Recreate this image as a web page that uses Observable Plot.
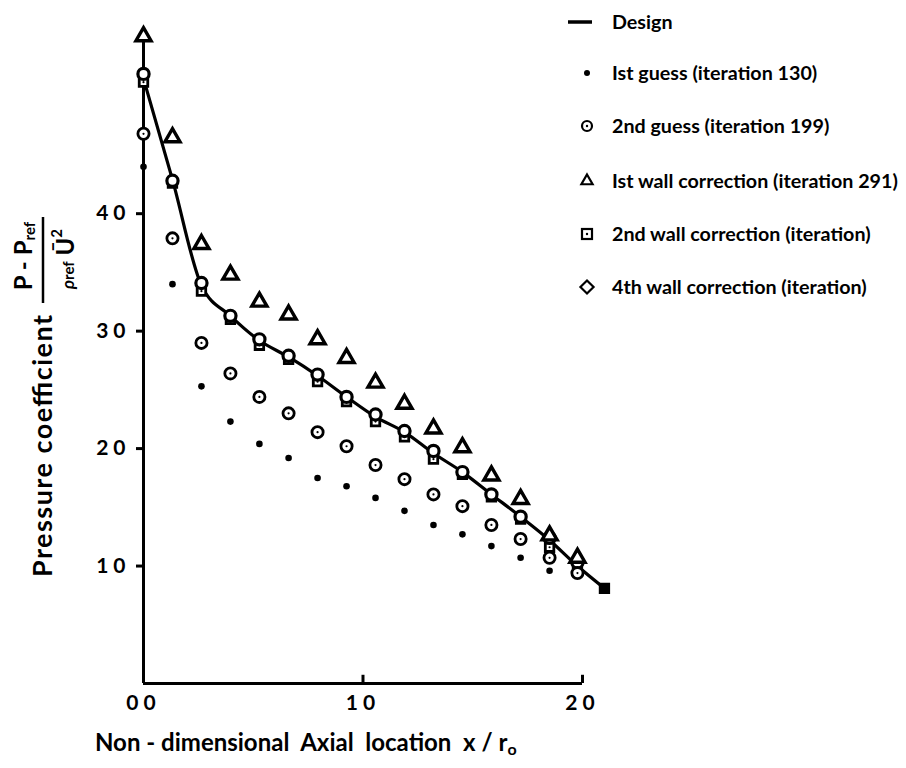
<!DOCTYPE html>
<html>
<head>
<meta charset="utf-8">
<script src="https://cdn.jsdelivr.net/npm/d3@7"></script>
<script src="https://cdn.jsdelivr.net/npm/@observablehq/plot@0.6"></script>
<style>
  html, body { margin: 0; padding: 0; background: #fff; }
  #chart { position: relative; width: 906px; height: 768px; }
  .cp g[aria-label="y-axis tick label"] text { letter-spacing: 5px; }
  .cp g[aria-label="x-axis tick label"] text { letter-spacing: 5px; }
</style>
</head>
<body>
<div id="chart"></div>
<script>
// Axial stations x/r0 at which the pressure coefficient was evaluated
const xLocation = [0, 1.32, 2.64, 3.96, 5.28, 6.61, 7.93, 9.25, 10.57, 11.89, 13.21, 14.53, 15.85, 17.18, 18.50, 19.77, 21.0];

// Pressure coefficient for each run (same station order as xLocation)
const design      = [51.5, 42.9, 33.9, 31.3, 29.2, 27.8, 26.2, 24.4, 22.7, 21.4, 19.6, 18.0, 16.1, 14.2, 12.2, 10.0, 8.1];
const firstGuess  = [44.0, 34.0, 25.3, 22.3, 20.4, 19.2, 17.5, 16.8, 15.8, 14.7, 13.5, 12.7, 11.7, 10.7, 9.6];
const secondGuess = [46.8, 37.9, 29.0, 26.4, 24.4, 23.0, 21.4, 20.2, 18.6, 17.4, 16.1, 15.1, 13.5, 12.3, 10.7, 9.4];
const firstWall   = [55.1, 46.5, 37.4, 34.8, 32.5, 31.4, 29.3, 27.7, 25.6, 23.8, 21.7, 20.1, 17.7, 15.7, 12.6, 10.7];
const secondWall  = [51.2, 42.6, 33.4, 31.0, 28.8, 27.6, 25.7, 24.0, 22.3, 21.0, 19.1, 17.8, 15.9, 14.0, 11.6, 9.7, 8.1];
const fourthWall  = [51.9, 42.8, 34.1, 31.3, 29.3, 27.9, 26.3, 24.4, 22.9, 21.5, 19.8, 18.0, 16.1, 14.2, 12.4, 10.3];

// Axis ticks
const xTicks = [0, 10, 20];
const yTicks = [10, 20, 30, 40];

// Legend entries
const legendLabels = [
  "Design",
  "Ist guess (iteration 130)",
  "2nd guess (iteration 199)",
  "Ist wall correction (iteration 291)",
  "2nd wall correction (iteration)",
  "4th wall correction (iteration)"
];

const FONT = "Lato, 'Liberation Sans', sans-serif";
const rows = vals => vals.map((v, i) => ({x: xLocation[i], y: v}));

const plot = Plot.plot({
  className: "cp",
  width: 906,
  height: 768,
  marginLeft: 143,
  marginRight: 324,
  marginTop: 37,
  marginBottom: 85,
  x: {domain: [0, 20]},
  y: {domain: [0, 55]},
  style: {fontFamily: FONT, background: "white", color: "black", overflow: "visible"},
  marks: [
    Plot.ruleX([0], {strokeWidth: 3}),
    Plot.ruleY([0], {strokeWidth: 3}),
    Plot.ruleX(xTicks.slice(1), {y1: 0, y2: 0.7, strokeWidth: 3}),
    Plot.axisY(yTicks, {label: null, tickSize: 7, tickPadding: 6, strokeWidth: 3,
      fontSize: 21, fontWeight: "bold", tickFormat: d => String(d)}),
    Plot.axisX(xTicks, {label: null, tickSize: 0, tickPadding: 12,
      fontSize: 21, fontWeight: "bold", tickFormat: d => String(d).padStart(2, "0")}),
    Plot.line(rows(design), {x: "x", y: "y", curve: "monotone-x", strokeWidth: 3.2}),
    Plot.dot(rows(secondWall), {x: "x", y: "y", symbol: "square", r: 4.8, stroke: "black",
      strokeWidth: 2.8, fill: (d, i) => i === secondWall.length - 1 ? "black" : "white"}),
    Plot.dot(rows(secondWall), {x: "x", y: "y", r: 1.1, fill: "black"}),
    Plot.dot(rows(fourthWall), {x: "x", y: "y", r: 5.6, stroke: "black", strokeWidth: 3.2, fill: "white"}),
    Plot.dot(rows(firstWall), {x: "x", y: "y", symbol: "triangle", r: 5.6, stroke: "black", strokeWidth: 3.4, fill: "white"}),
    Plot.dot(rows(secondGuess), {x: "x", y: "y", r: 5.6, stroke: "black", strokeWidth: 2.8, fill: "white"}),
    Plot.dot(rows(secondGuess), {x: "x", y: "y", r: 1.1, fill: "black"}),
    Plot.dot(rows(firstGuess), {x: "x", y: "y", r: 3.3, fill: "black"})
  ]
});

document.getElementById("chart").appendChild(plot);
const svg = d3.select(plot);

// Y-axis title: "Pressure coefficient (P - Pref)/(ρref Ū²)", rotated
const yTitle = svg.append("g")
  .attr("transform", "translate(43,683) rotate(-90)")
  .attr("font-family", FONT).attr("font-weight", "bold").attr("fill", "black");
yTitle.append("text")
  .attr("x", 106).attr("y", 0).attr("dy", "0.35em")
  .attr("text-anchor", "start")
  .attr("font-size", 27)
  .attr("textLength", 262).attr("lengthAdjust", "spacing")
  .text("Pressure coefficient");
const num = yTitle.append("text")
  .attr("x", 427).attr("y", -11).attr("text-anchor", "middle").attr("font-size", 24);
num.append("tspan").text("P - P");
num.append("tspan").attr("font-size", 15).attr("dy", 3).text("ref");
yTitle.append("line")
  .attr("x1", 380).attr("x2", 466).attr("y1", 0).attr("y2", 0)
  .attr("stroke", "black").attr("stroke-width", 2.5);
const den = yTitle.append("text")
  .attr("x", 424).attr("y", 31).attr("text-anchor", "middle").attr("font-size", 24);
den.append("tspan").attr("font-size", 17).attr("font-style", "italic").text("ρ");
den.append("tspan").attr("font-size", 15).text("ref");
den.append("tspan").text(" Ū");
den.append("tspan").attr("font-size", 15).attr("dy", -12).text("2");

// X-axis title
const xTitle = svg.append("text")
  .attr("x", 95).attr("y", 751)
  .attr("text-anchor", "start")
  .attr("font-family", FONT).attr("font-weight", "bold").attr("font-size", 24).attr("fill", "black");
xTitle.append("tspan").text("Non - dimensional  Axial  location  x / r");
xTitle.append("tspan").attr("font-size", 16).attr("dy", 4).text("o");

// Legend
const legendY = [22, 73, 126, 181, 234, 287];
const legX = 587, legTextX = 612;
const leg = svg.append("g").attr("font-family", FONT).attr("font-weight", "bold")
  .attr("font-size", 19.7).attr("text-anchor", "start");
legendLabels.forEach((lab, i) => {
  leg.append("text").attr("x", legTextX).attr("y", legendY[i]).attr("dy", "0.35em").text(lab);
});
const sym = (type, size) => d3.symbol().type(type).size(size)();
// design line
leg.append("line").attr("x1", 568).attr("x2", 592).attr("y1", legendY[0]).attr("y2", legendY[0])
  .attr("stroke", "black").attr("stroke-width", 3.5);
// 1st guess: dot
leg.append("circle").attr("cx", legX).attr("cy", legendY[1]).attr("r", 3).attr("fill", "black");
// 2nd guess: circle with dot
leg.append("circle").attr("cx", legX).attr("cy", legendY[2]).attr("r", 5).attr("fill", "white").attr("stroke", "black").attr("stroke-width", 2.2);
leg.append("circle").attr("cx", legX).attr("cy", legendY[2]).attr("r", 1.2).attr("fill", "black");
// 1st wall correction: triangle
leg.append("path").attr("transform", `translate(${legX},${legendY[3]})`).attr("d", sym(d3.symbolTriangle2, 90))
  .attr("fill", "white").attr("stroke", "black").attr("stroke-width", 2.2);
// 2nd wall correction: square with dot
leg.append("rect").attr("x", legX - 5).attr("y", legendY[4] - 5).attr("width", 10).attr("height", 10)
  .attr("fill", "white").attr("stroke", "black").attr("stroke-width", 2.2);
leg.append("circle").attr("cx", legX).attr("cy", legendY[4]).attr("r", 1.2).attr("fill", "black");
// 4th wall correction: diamond
leg.append("path").attr("transform", `translate(${legX},${legendY[5]})`).attr("d", sym(d3.symbolDiamond2, 110))
  .attr("fill", "white").attr("stroke", "black").attr("stroke-width", 2.2);
</script>
</body>
</html>
